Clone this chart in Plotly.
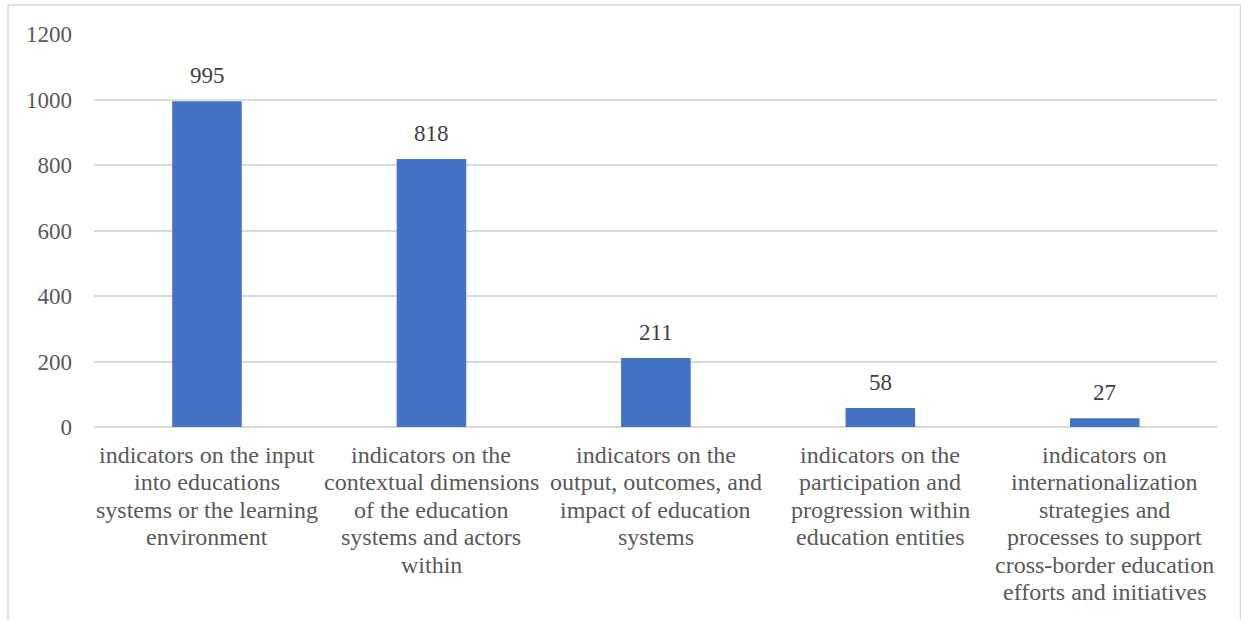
import plotly.graph_objects as go

categories = [
    "indicators on the input<br>into educations<br>systems or the learning<br>environment",
    "indicators on the<br>contextual dimensions<br>of the education<br>systems and actors<br>within",
    "indicators on the<br>output, outcomes, and<br>impact of education<br>systems",
    "indicators on the<br>participation and<br>progression within<br>education entities",
    "indicators on<br>internationalization<br>strategies and<br>processes to support<br>cross-border education<br>efforts and initiatives",
]
counts = [995, 818, 211, 58, 27]
y_ticks = [0, 200, 400, 600, 800, 1000, 1200]

FONT = "Liberation Serif, Times New Roman, serif"
LINE_PX = 27.4      # line pitch of the category labels
FIRST_LINE_PX = 28  # distance from the baseline to the first label line

fig = go.Figure(
    go.Bar(
        x=categories,
        y=counts,
        marker=dict(color="#4472C4", line=dict(width=0)),
        hoverinfo="x+y",
    )
)

annotations = []
# value labels above the bars
for cat, v in zip(categories, counts):
    annotations.append(dict(
        x=cat, y=v, xref="x", yref="y",
        text=str(v), showarrow=False,
        yanchor="bottom", yshift=11,
        font=dict(family=FONT, size=23, color="#404040"),
    ))
# multi-line category labels below the axis, with a tighter line pitch
for cat in categories:
    for i, line in enumerate(cat.split("<br>")):
        annotations.append(dict(
            x=cat, y=0, xref="x", yref="y",
            text=line, showarrow=False,
            yanchor="middle", yshift=-(FIRST_LINE_PX + i * LINE_PX),
            font=dict(family=FONT, size=24, color="#595959"),
        ))

W, H = 1241, 620
ml, mr, mt, mb = 94, 24, 34, 193
pw, ph = W - ml - mr, H - mt - mb

def px_x(x):
    return (x - ml) / pw

def px_y(y):
    return (H - mb - y) / ph

fig.update_layout(
    width=W,
    height=H,
    margin=dict(l=ml, r=mr, t=mt, b=mb),
    paper_bgcolor="white",
    plot_bgcolor="white",
    bargap=0.69,
    showlegend=False,
    font=dict(family=FONT, size=23, color="#595959"),
    xaxis=dict(
        showgrid=False,
        showline=False,
        ticks="",
        showticklabels=False,
    ),
    yaxis=dict(
        range=[0, 1200],
        tickvals=y_ticks,
        showgrid=True,
        gridcolor="#D9D9D9",
        gridwidth=1.5,
        zeroline=True,
        zerolinecolor="#D9D9D9",
        zerolinewidth=1.5,
        showline=False,
        ticks="",
        ticklabelstandoff=21,
        tickfont=dict(family=FONT, size=23, color="#595959"),
    ),
    annotations=annotations,
    shapes=[
        dict(
            type="rect",
            xref="paper",
            yref="paper",
            x0=px_x(8),
            x1=px_x(1240.5),
            y0=px_y(630),
            y1=px_y(5),
            line=dict(color="#D9D9D9", width=1.5),
            fillcolor="rgba(0,0,0,0)",
            layer="below",
        )
    ],
)

fig.write_html("out.html")
